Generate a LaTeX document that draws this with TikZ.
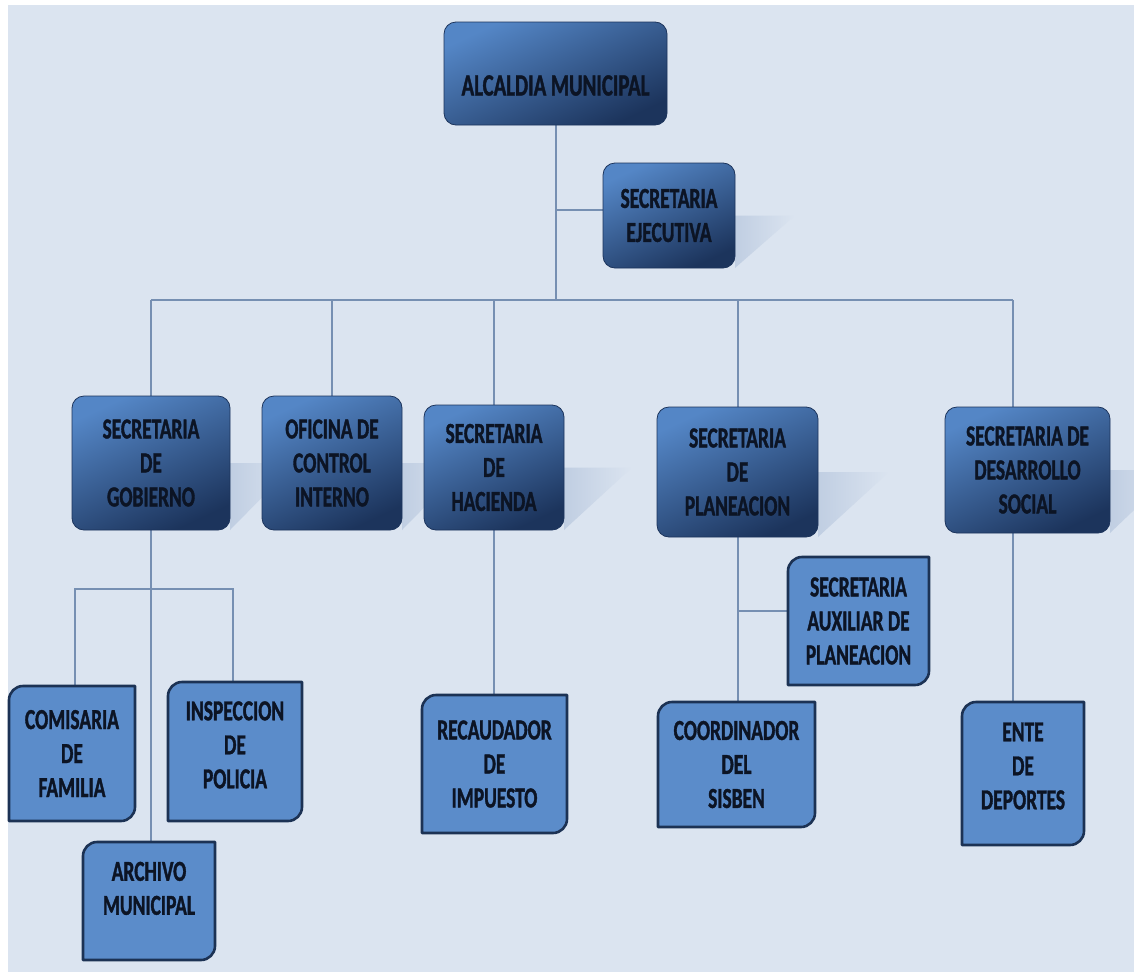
\documentclass[tikz,border=0pt]{standalone}
\usepackage{fontspec}
\newfontfamily\boxfont[FakeStretch=0.67, BoldFeatures={FakeBold=1.2}]{Carlito}
\usetikzlibrary{calc}
\pgfdeclarelayer{shadowlayer}
\pgfdeclarelayer{linelayer}
\pgfdeclarelayer{boxlayer}
\pgfsetlayers{shadowlayer,linelayer,boxlayer,main}

\definecolor{bgc}{RGB}{219,228,240}
\definecolor{topA}{RGB}{84,134,198}
\definecolor{topM}{RGB}{56,96,150}
\definecolor{topB}{RGB}{28,52,92}
\definecolor{lowfill}{RGB}{91,140,202}
\definecolor{lowedge}{RGB}{28,50,84}
\definecolor{linec}{RGB}{118,143,178}
\definecolor{txt}{RGB}{12,20,36}
\definecolor{shadA}{RGB}{192,206,226}

\tikzset{
  lbl/.style={font={\boxfont\bfseries\fontsize{29}{34}\selectfont}, text=txt, align=center, inner sep=0pt, outer sep=0pt},
  topbox/.style={lbl, rounded corners=12pt, draw=topB, line width=0.8pt,
     top color=topA, middle color=topM, bottom color=topB, shading angle=25},
  lowbox/.style={lbl, draw=none},
  lowshape/.style={fill=lowfill, draw=lowedge, line width=2.6pt, line join=round},
  conn/.style={draw=linec, line width=2pt},
  shad/.style={left color=shadA, right color=bgc, draw=none}
}

\newcommand\lowpath[1]{%
  \begin{pgfonlayer}{boxlayer}
  \path[lowshape] ($(#1.north west)+(0,14)$)
     .. controls ($(#1.north west)+(0,6.3)$) and ($(#1.north west)+(6.3,0)$) .. ($(#1.north west)+(14,0)$)
     -- (#1.north east)
     -- ($(#1.south east)+(0,-14)$)
     .. controls ($(#1.south east)+(0,-6.3)$) and ($(#1.south east)+(-6.3,0)$) .. ($(#1.south east)+(-14,0)$)
     -- (#1.south west) -- cycle;
  \end{pgfonlayer}}

\newcommand\boxshadow[2]{%
  \begin{pgfonlayer}{shadowlayer}
  \shade[shad] (#1.east) -- ($(#1.east)+(#2,0)$) -- (#1.south east) -- cycle;
  \end{pgfonlayer}}

\newcommand\liftlines[2]{\raisebox{#1}[\height][\depth]{\begin{tabular}{@{}c@{}}#2\end{tabular}}}

\begin{document}
\begin{tikzpicture}[x=1pt,y=-1pt]
\useasboundingbox (0,0) rectangle (1134,972);
\begin{pgfonlayer}{shadowlayer}
\fill[white] (0,0) rectangle (1134,972);
\fill[bgc] (8,5) rectangle (1134,972);
\end{pgfonlayer}

% top level
\node[topbox, minimum width=223pt, minimum height=103pt, font={\boxfont\bfseries\fontsize{31}{36}\selectfont}] (alc) at (555.5,73.5)
  {\raisebox{-12pt}[\height][\depth]{ALCALDIA MUNICIPAL}};
\node[topbox, minimum width=132pt, minimum height=105pt] (eje) at (669,215.5)
  {SECRETARIA\\EJECUTIVA};

% second level
\node[topbox, minimum width=158pt, minimum height=134pt] (gob) at (151,463)
  {SECRETARIA\\DE\\GOBIERNO};
\node[topbox, minimum width=140pt, minimum height=134pt] (ofi) at (332,463)
  {OFICINA DE\\CONTROL\\INTERNO};
\node[topbox, minimum width=140pt, minimum height=125pt] (hac) at (494,467.5)
  {SECRETARIA\\DE\\HACIENDA};
\node[topbox, minimum width=161pt, minimum height=130pt] (pla) at (737.5,472)
  {SECRETARIA\\DE\\PLANEACION};
\node[topbox, minimum width=165pt, minimum height=126pt] (des) at (1027.5,470)
  {SECRETARIA DE\\DESARROLLO\\SOCIAL};

% third level
\node[lowbox, minimum width=126pt, minimum height=135pt] (com) at (72,753.5)
  {COMISARIA\\DE\\FAMILIA};
\node[lowbox, minimum width=134pt, minimum height=139pt] (ins) at (235,751.5)
  {\liftlines{4pt}{INSPECCION\\DE\\POLICIA}};
\node[lowbox, minimum width=132pt, minimum height=118pt] (arc) at (149,901)
  {\liftlines{10pt}{ARCHIVO\\MUNICIPAL}};
\node[lowbox, minimum width=145pt, minimum height=138pt] (rec) at (494.5,764)
  {RECAUDADOR\\DE\\IMPUESTO};
\node[lowbox, minimum width=141pt, minimum height=128pt] (aux) at (858.5,621)
  {SECRETARIA\\AUXILIAR DE\\PLANEACION};
\node[lowbox, minimum width=157pt, minimum height=125pt] (coo) at (736.5,764.5)
  {COORDINADOR\\DEL\\SISBEN};
\node[lowbox, minimum width=122pt, minimum height=143pt] (ent) at (1023,773.5)
  {\liftlines{5pt}{ENTE\\DE\\DEPORTES}};

\lowpath{com}\lowpath{ins}\lowpath{arc}\lowpath{rec}\lowpath{aux}\lowpath{coo}\lowpath{ent}

% shadows
\boxshadow{eje}{60}
\boxshadow{gob}{66}
\boxshadow{ofi}{66}
\boxshadow{hac}{68}
\boxshadow{pla}{71}
\boxshadow{des}{66}

% connectors
\coordinate (busL) at (151,300);
\coordinate (busR) at (1013,300);
\coordinate (dOfi) at (332,300);
\coordinate (dHac) at (494,300);
\coordinate (dPla) at (737.5,300);
\coordinate (dDes) at (1013,300);
\coordinate (ejeB) at (555.5,210);
\coordinate (gobL) at (75,589);
\coordinate (gobR) at (233,589);
\coordinate (plaB) at (737.5,611);

\begin{pgfonlayer}{linelayer}
\draw[conn] (busL) -- (busR);
\draw[conn] (alc.south) -- (alc.south |- busL);
\draw[conn] (ejeB) -- (ejeB -| eje.west);
\draw[conn] (busL) -- (busL |- gob.north);
\draw[conn] (dOfi) -- (dOfi |- ofi.north);
\draw[conn] (dHac) -- (dHac |- hac.north);
\draw[conn] (dPla) -- (dPla |- pla.north);
\draw[conn] (dDes) -- (dDes |- des.north);
% gobierno subtree
\draw[conn] (gob.south) -- (gob.south |- arc.north);
\draw[conn] (gobL |- com.north) -- (gobL) -- (gobR) -- (gobR |- ins.north);
% hacienda
\draw[conn] (hac.south) -- (hac.south |- rec.north);
% planeacion
\draw[conn] (pla.south) -- (pla.south |- coo.north);
\draw[conn] (plaB) -- (plaB -| aux.west);
% desarrollo
\draw[conn] (dDes |- des.south) -- (dDes |- ent.north);
\end{pgfonlayer}
\end{tikzpicture}
\end{document}
